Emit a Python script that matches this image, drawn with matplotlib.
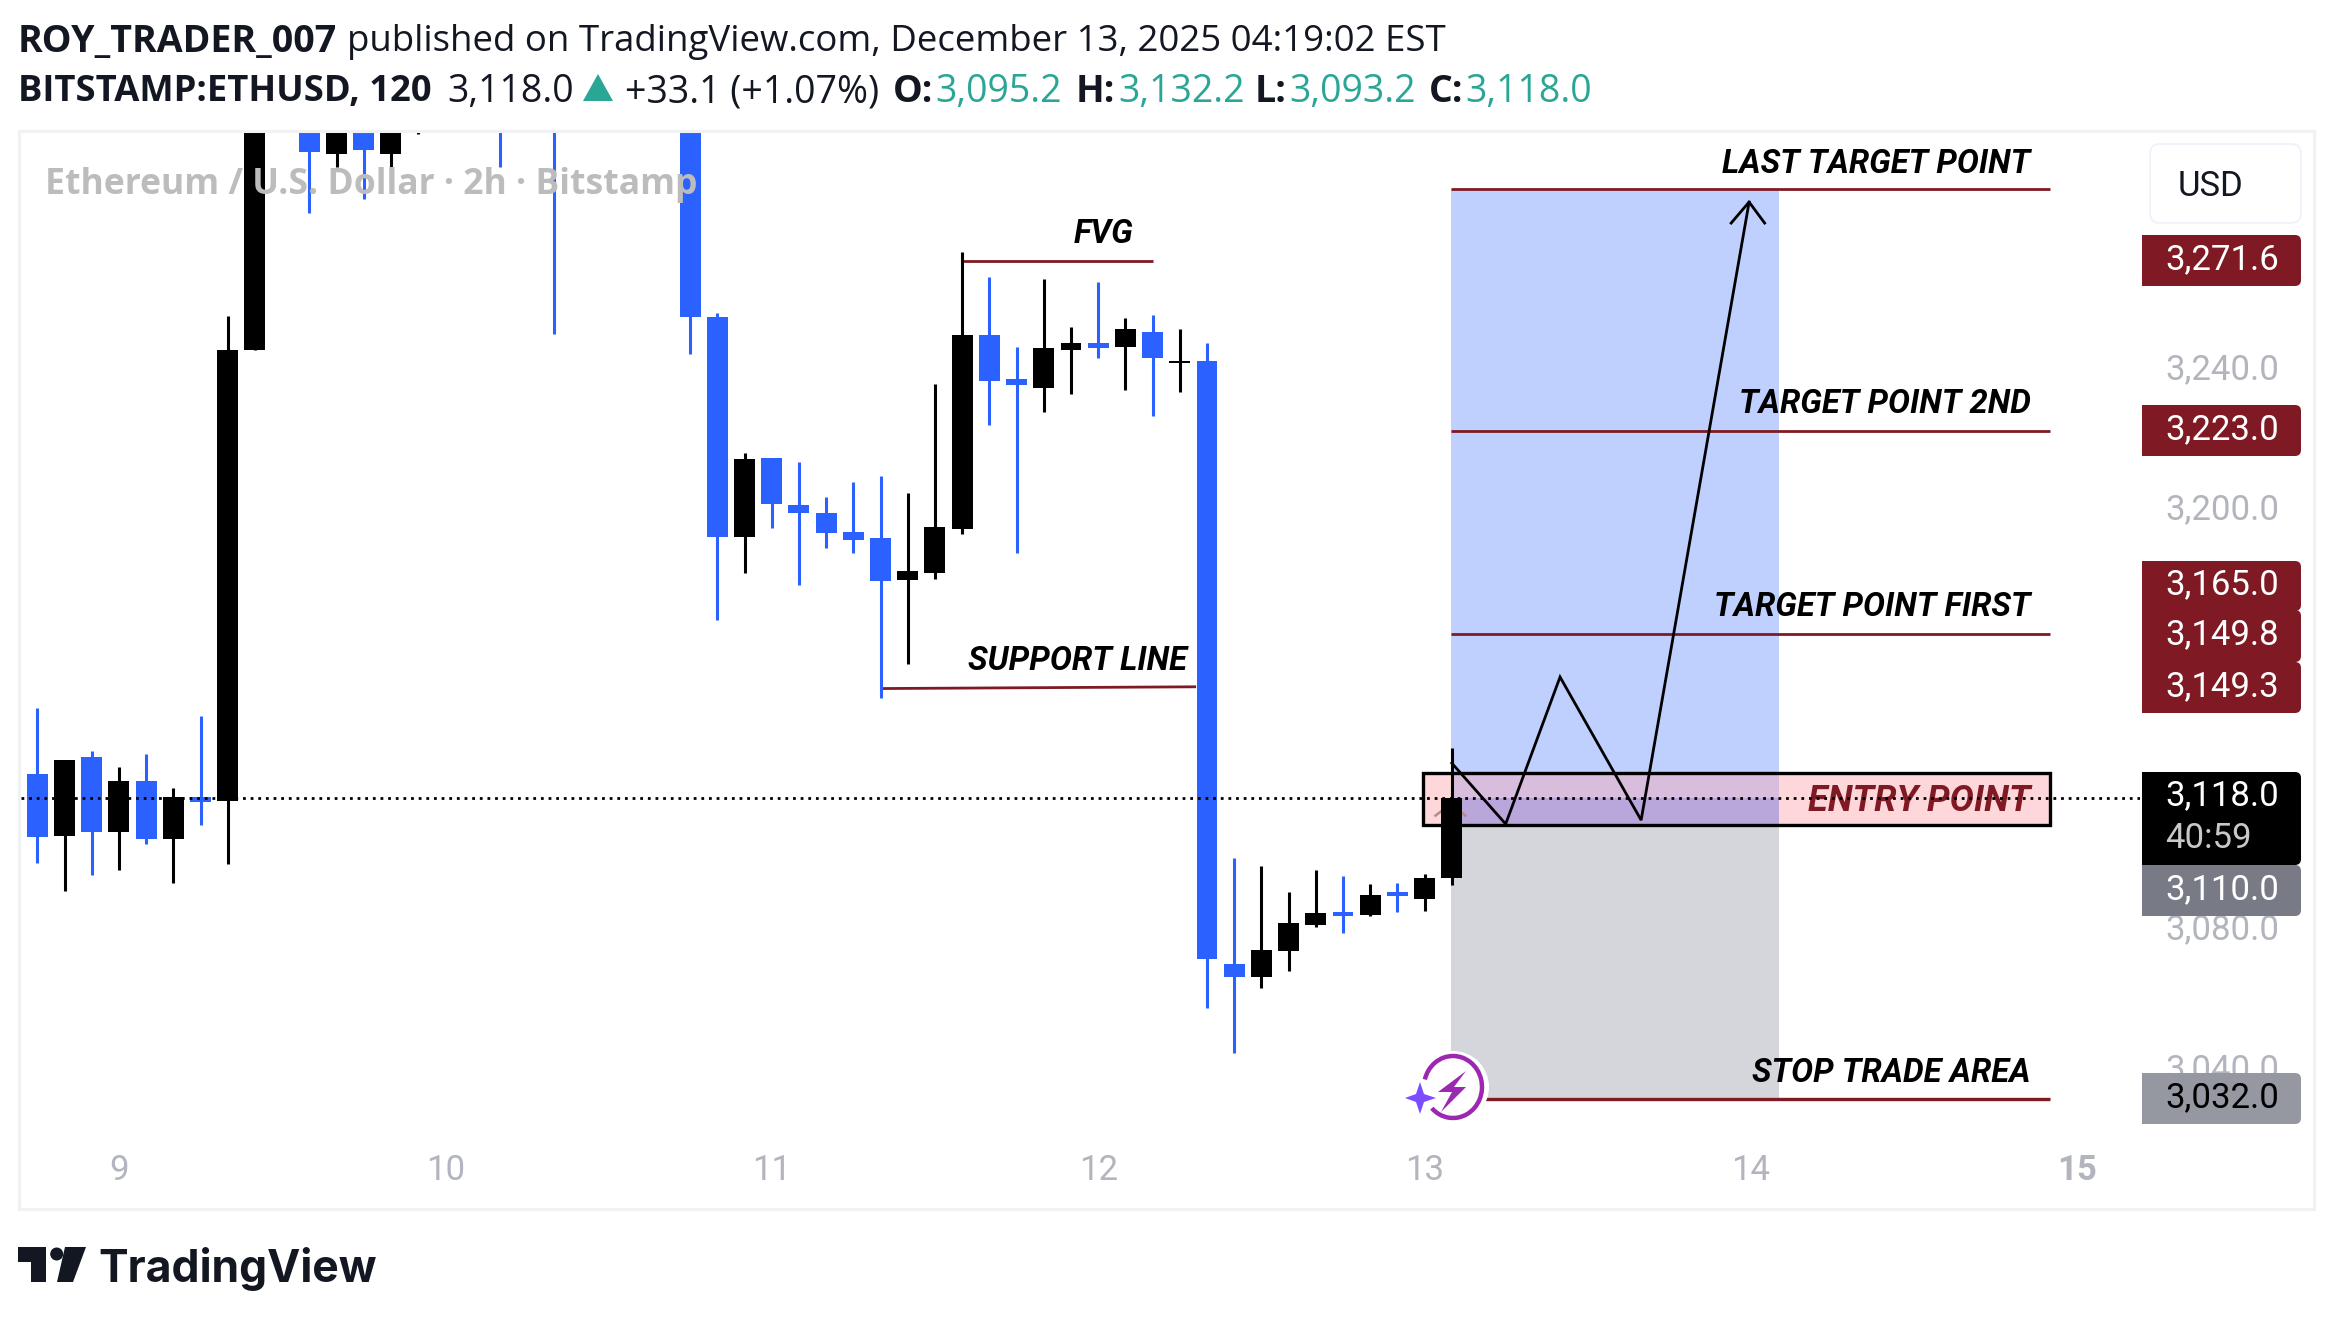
import matplotlib

matplotlib.use("Agg")
import matplotlib.pyplot as plt
from matplotlib.patches import Rectangle, FancyBboxPatch, Polygon, Circle, Arc
from matplotlib.transforms import ScaledTranslation

W, H = 2334, 1320

# candles, 2h bars. bars 8-24 run off the top of the pane so their upper parts are guesses
opens = [3124.9, 3107.1, 3129.7, 3108.2, 3122.8, 3106.3, 3118.3, 3117.1, 3246.0, 3340, 3335, 3302.0, 3335,
         3302.0, 3315, 3325, 3335, 3325, 3315, 3325, 3315, 3335, 3345, 3335, 3330, 3255.4, 3192.5, 3215.2,
         3201.8, 3199.6, 3194.1, 3192.3, 3180.3, 3182.3, 3194.9, 3250.3, 3237.7, 3235.1, 3246.1, 3248.0,
         3246.9, 3251.1, 3242.3, 3242.9, 3070.6, 3066.9, 3074.3, 3081.7, 3085.6, 3084.6, 3091.2, 3089.1, 3095.2]
highs = [3143.8, 3128.9, 3131.4, 3126.9, 3130.6, 3120.9, 3141.4, 3255.7, 3345, 3352, 3345, 3335, 3342,
         3335, 3330, 3340, 3345, 3335, 3330, 3335, 3340, 3350, 3355, 3345, 3335, 3256.6, 3216.6, 3215.2,
         3214.1, 3204.1, 3208.3, 3210.0, 3205.2, 3236.2, 3273.9, 3266.9, 3246.9, 3266.2, 3252.6, 3265.4,
         3255.1, 3256.1, 3252.0, 3248.0, 3100.9, 3098.6, 3091.1, 3097.5, 3095.7, 3093.4, 3093.8, 3096.3, 3132.2]
lows = [3099.6, 3091.6, 3096.0, 3097.4, 3104.9, 3093.8, 3110.3, 3099.1, 3246.0, 3318, 3285.1, 3298.3, 3289.1,
        3293.4, 3307.7, 3315, 3320, 3298.3, 3312, 3250.6, 3312, 3325, 3330, 3320, 3244.9, 3168.9, 3182.4, 3195.3,
        3179.0, 3189.6, 3188.1, 3146.7, 3156.2, 3180.6, 3193.4, 3224.6, 3188.0, 3228.3, 3233.4, 3243.7,
        3234.6, 3227.2, 3233.9, 3058.0, 3045.1, 3063.7, 3068.6, 3081.1, 3079.4, 3084.2, 3085.6, 3085.7, 3093.2]
closes = [3106.8, 3128.9, 3108.2, 3122.8, 3106.3, 3118.3, 3116.9, 3246.0, 3340, 3325, 3302.6, 3330, 3303.1,
          3330, 3325, 3335, 3325, 3315, 3325, 3315, 3335, 3345, 3335, 3330, 3255.6, 3192.5, 3214.9, 3201.9,
          3199.5, 3193.7, 3191.8, 3180.0, 3182.9, 3195.4, 3250.3, 3237.3, 3236.1, 3246.6, 3248.0, 3246.6,
          3252.0, 3243.7, 3242.9, 3071.9, 3066.9, 3074.5, 3082.2, 3085.1, 3084.3, 3090.2, 3089.9, 3095.1, 3118.0]

day_bars = [3, 15, 27, 39, 51, 63, 75]
day_labels = ["9", "10", "11", "12", "13", "14", "15"]
price_ticks = [3040, 3080, 3200, 3240]
price_tick_labels = ["3,040.0", "3,080.0", "3,200.0", "3,240.0"]

last_price = 3118.0
target_prices = [3292.0, 3223.0, 3165.0]
stop_price = 3032.0
entry_top, entry_bot = 3125.1, 3110.3
fvg_price = 3271.6
path_bars = [52, 53.98, 55.98, 58.96, 62.93]
path_prices = [3128, 3110.6, 3152.6, 3111.7, 3288.3]

tag_texts = ["3,271.6", "3,223.0", "3,165.0", "3,149.8", "3,149.3", "3,110.0", "3,032.0"]
tag_colors = ["#7f1a24", "#7f1a24", "#7f1a24", "#7f1a24", "#7f1a24", "#787b86", "#9598a1"]
tag_text_colors = ["white", "white", "white", "white", "white", "white", "black"]

DARK = "#131722"
RED = "#7f1a24"
BLUE = "#2b62ff"
GREEN = "#2aa697"
GREY = "#b2b5be"

fig = plt.figure(figsize=(W / 100, H / 100), dpi=100)
fig.patch.set_facecolor("white")

# price pane, 3.5 px per USD, 27.2 px per bar
ax = fig.add_axes([21 / W, 1 - 1139 / H, (2140 - 21) / W, (1139 - 131) / H])
ax.set_xlim(-0.6, 77.3)
ax.set_ylim(3020.6, 3308.6)
for s in ax.spines.values():
    s.set_visible(False)
ax.patch.set_alpha(0)

# position tool and entry box
ax.add_patch(Rectangle((51.97, entry_top), 12.06, target_prices[0] - entry_top, fc="#bfd0ff", lw=0, zorder=1))
ax.add_patch(Rectangle((51.97, stop_price), 12.06, entry_bot - stop_price, fc="#d5d6db", lw=0, zorder=1))
ax.add_patch(Rectangle((50.94, entry_bot), 23.06, entry_top - entry_bot, fc="#fdd7da", lw=0, zorder=1.5))
ax.add_patch(Rectangle((51.97, last_price), 12.06, entry_top - last_price, fc="#d8bddc", lw=0, zorder=1.6))
ax.add_patch(Rectangle((51.97, entry_bot), 12.06, last_price - entry_bot, fc="#b9a6da", lw=0, zorder=1.6))
ax.add_patch(Rectangle((50.94, entry_bot), 23.06, entry_top - entry_bot, fc="none", ec="black", lw=2.4, zorder=2))
ax.plot([51.4, 51.97, 52.5], [3113, 3116.4, 3113], color="#b98a8a", lw=1.8, zorder=1.7)

# level lines
for p in target_prices:
    ax.plot([51.97, 74], [p, p], color=RED, lw=2, zorder=2, solid_capstyle="butt")
ax.plot([52.8, 74], [stop_price, stop_price], color=RED, lw=2.4, zorder=2, solid_capstyle="butt")
ax.plot([34, 41], [fvg_price, fvg_price], color=RED, lw=2, zorder=2, solid_capstyle="butt")
ax.plot([31, 42.6], [3149.3, 3149.8], color=RED, lw=2, zorder=2, solid_capstyle="butt")

# candles
for i in range(len(opens)):
    col = "black" if closes[i] >= opens[i] else BLUE
    ax.vlines(i, lows[i], highs[i], color=col, lw=2.2, zorder=3)
    bot = min(opens[i], closes[i])
    ax.bar(i, abs(closes[i] - opens[i]), bottom=bot, width=0.77, color=col, lw=0, zorder=3)

# projected path
ax.plot(path_bars, path_prices, color="black", lw=2, zorder=4, solid_joinstyle="miter")
ax.plot([62.27, 62.93, 63.5], [3282.3, 3288.3, 3282.3], color="black", lw=2, zorder=4)

label_font = dict(family="Roboto", style="italic", fontweight="bold", fontsize=23.6, ha="right", va="center", zorder=5)
ax.text(73.27, 3299.3, "LAST TARGET POINT", color="black", **label_font)
ax.text(73.27, 3230.5, "TARGET POINT 2ND", color="black", **label_font)
ax.text(73.27, 3172.5, "TARGET POINT FIRST", color="black", **label_font)
ax.text(73.27, 3117.2, "ENTRY POINT", color=RED, **dict(label_font, fontsize=26))
ax.text(73.27, 3039.4, "STOP TRADE AREA", color="black", **label_font)
ax.text(42.27, 3157.3, "SUPPORT LINE", color="black", **dict(label_font, fontsize=23.7))
ax.text(40.3, 3279.3, "FVG", color="black", **label_font)

ax.axhline(last_price, color="black", lw=2, linestyle=(0, (1, 1.75)), zorder=6)

ax.text(0.28, 3293.2, "Ethereum / U.S. Dollar · 2h · Bitstamp", family="Open Sans", fontweight="bold",
        fontsize=25.6, color="#bcbcbc", va="center", ha="left", zorder=7)

ax.yaxis.tick_right()
ax.set_yticks(price_ticks)
ax.set_yticklabels(price_tick_labels, family="Roboto", fontsize=25, color=GREY)
ax.set_xticks(day_bars)
ax.set_xticklabels(day_labels, family="Roboto", fontsize=25, color=GREY)
ax.tick_params(axis="y", length=0, pad=18)
ax.tick_params(axis="x", length=0, pad=11)
ax.get_xticklabels()[-1].set_fontweight("bold")
up = ScaledTranslation(0, 5 / 100, fig.dpi_scale_trans)
for lab in ax.get_yticklabels():
    lab.set_transform(lab.get_transform() + up)

# chrome in pixel coordinates
ov = fig.add_axes([0, 0, 1, 1], zorder=5)
ov.set_xlim(0, W)
ov.set_ylim(H, 0)
ov.axis("off")
ov.patch.set_alpha(0)
ov.add_patch(Rectangle((19, 131), 2295, 1078, fc="none", ec="#f0f1f3", lw=2.2))


def tag(y0, y1, color):
    ov.add_patch(FancyBboxPatch((2142, y0), 159, y1 - y0, boxstyle="round,pad=0,rounding_size=6", fc=color, lw=0))
    ov.add_patch(Rectangle((2142, y0), 12, y1 - y0, fc=color, lw=0))


tag_tops = [235, 405, 561, 610, 662, 865, 1073]
tag_bots = [286, 456, 611, 662, 713, 916, 1124]
for i in range(len(tag_texts)):
    tag(tag_tops[i], tag_bots[i], tag_colors[i])
    ov.text(2165.5, (tag_tops[i] + tag_bots[i]) / 2 - 1, tag_texts[i], family="Roboto", fontsize=25,
            color=tag_text_colors[i], va="center", ha="left")
tag(772, 865, "black")
ov.text(2165.5, 796, "3,118.0", family="Roboto", fontsize=25, color="white", va="center", ha="left")
ov.text(2165.5, 838, "40:59", family="Roboto", fontsize=25, color="#c8c8c8", va="center", ha="left")

ov.add_patch(FancyBboxPatch((2150, 144), 151, 79, boxstyle="round,pad=0,rounding_size=10", fc="white", ec="#f0f3fa", lw=1.5))
ov.text(2210, 186, "USD", family="Roboto", fontsize=25, color=DARK, va="center", ha="center")

# header, each run placed on its own
line1 = [(18, "ROY_TRADER_007", "bold", DARK, 27),
         (347, "published on TradingView.com, December 13, 2025 04:19:02 EST", "normal", DARK, 26.4)]
line2 = [(18, "BITSTAMP:ETHUSD, 120", "bold", DARK, 26.2), (447, "3,118.0", "normal", DARK, 27), (625, "+33.1 (+1.07%)", "normal", DARK, 27),
         (893, "O:", "bold", DARK, 27), (935, "3,095.2", "normal", GREEN, 27), (1076, "H:", "bold", DARK, 27), (1118, "3,132.2", "normal", GREEN, 27),
         (1255, "L:", "bold", DARK, 27), (1289, "3,093.2", "normal", GREEN, 27), (1429, "C:", "bold", DARK, 27), (1465, "3,118.0", "normal", GREEN, 27)]
for x, s, w, c, fs in line1:
    ov.text(x, 42, s, family="Open Sans", fontsize=fs, fontweight=w, color=c, va="center", ha="left")
for x, s, w, c, fs in line2:
    ov.text(x, 92, s, family="Open Sans", fontsize=fs, fontweight=w, color=c, va="center", ha="left")
ov.add_patch(Polygon([(583, 101), (598, 74), (613, 101)], fc=GREEN, lw=0))

# TradingView logo
ov.add_patch(Polygon([(18, 1247), (45.5, 1247), (45.5, 1282), (31, 1282), (31, 1262), (18, 1262)], fc=DARK, lw=0))
ov.add_patch(Circle((56.7, 1254), 6.5, fc=DARK, lw=0))
ov.add_patch(Polygon([(65, 1247), (86, 1247), (73, 1282), (57, 1282)], fc=DARK, lw=0))
ov.text(98, 1269, "TradingView", family="Inter", fontweight="bold", fontsize=32, color=DARK, va="center", ha="left")

# publish badge
ov.add_patch(Circle((1453, 1087), 36, fc="white", lw=0))
ov.add_patch(Arc((1453, 1087), 58, 62, theta1=195, theta2=495, color="#9c27b0", lw=3.2))
ov.add_patch(Polygon([(1466, 1071), (1438, 1092), (1452, 1092), (1441, 1112), (1466, 1087), (1454, 1087)], fc="#9c27b0", lw=0))
ov.add_patch(Polygon([(1420, 1082), (1424, 1094), (1436, 1098), (1424, 1102), (1420, 1114), (1416, 1102), (1405, 1098), (1416, 1094)],
                     fc="#7c4dff", lw=0))

fig.savefig("out.png", dpi=100)
